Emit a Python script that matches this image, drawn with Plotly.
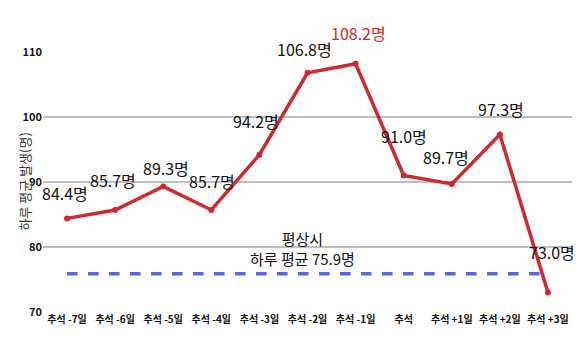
import plotly.graph_objects as go

# Daily average cases around the Chuseok holiday
categories = ["추석 -7일", "추석 -6일", "추석 -5일", "추석 -4일", "추석 -3일", "추석 -2일",
              "추석 -1일", "추석", "추석 +1일", "추석 +2일", "추석 +3일"]
values = [84.4, 85.7, 89.3, 85.7, 94.2, 106.8, 108.2, 91.0, 89.7, 97.3, 73.0]
baseline = 75.9
y_ticks = [70, 80, 90, 100, 110]

# label offsets in pixels (dx, dy) relative to each point
label_offsets = [(-2, 25), (-2, 30), (3, 19), (1, 29), (-3, 34), (-3, 24),
                 (3, 31), (0, 40), (-6, 27), (1, 26), (4, 41)]

RED = "#d0282e"
BLUE = "#5867e0"
FONT = "Liberation Sans Narrow, Noto Sans CJK KR, sans-serif"

idx = list(range(len(categories)))

fig = go.Figure()
fig.add_trace(go.Scatter(
    x=idx, y=[baseline] * len(idx), mode="lines",
    line=dict(color=BLUE, width=3.5, dash="dash"),
    hoverinfo="skip", showlegend=False,
))
fig.add_trace(go.Scatter(
    x=idx, y=values, mode="lines+markers",
    line=dict(color=RED, width=3.5),
    marker=dict(color=RED, size=6),
    showlegend=False, cliponaxis=False,
))

peak = values.index(max(values))
for i, v in enumerate(values):
    dx, dy = label_offsets[i]
    fig.add_annotation(
        x=i, y=v, text=f"{v:.1f}명", showarrow=False,
        xshift=dx, yshift=dy,
        font=dict(family=FONT, size=16, color=RED if i == peak else "#111111"),
    )

fig.add_annotation(
    x=4.9, y=baseline, text="평상시<br>하루 평균 " + f"{baseline:.1f}명",
    showarrow=False, yshift=25,
    font=dict(family=FONT, size=15, color="#111111"),
)

fig.add_annotation(
    xref="paper", yref="paper", x=0, y=0.5, xshift=-31,
    text="하루 평균 발생(명)", textangle=-90, showarrow=False,
    font=dict(family=FONT, size=13, color="#333333"),
)

fig.update_layout(
    width=576, height=346,
    margin=dict(l=43, r=4, t=52, b=34),
    paper_bgcolor="white", plot_bgcolor="white",
    font=dict(family=FONT),
)
fig.update_xaxes(
    range=[-0.5, 10.5], tickmode="array", tickvals=idx,
    ticktext=[f"<b>{c}</b>" for c in categories],
    showgrid=False, zeroline=False, showline=False,
    tickfont=dict(family=FONT, size=10, color="#111111"),
)
fig.update_yaxes(
    range=[70, 110], tickmode="array", tickvals=y_ticks,
    ticktext=[f"<b>{t}</b>" for t in y_ticks],
    showgrid=True, gridcolor="#bdbdbd", gridwidth=1.5, zeroline=False,
    tickfont=dict(family=FONT, size=11, color="#111111"),
)

fig.write_html("out.html")
